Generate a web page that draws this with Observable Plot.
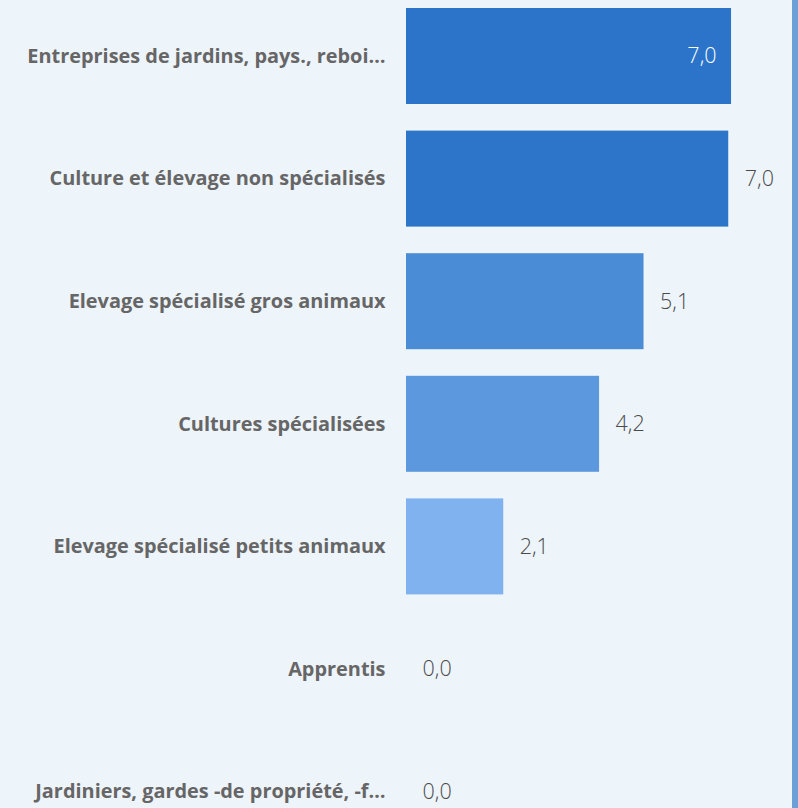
<!DOCTYPE html>
<html>
<head>
<meta charset="utf-8">
<script src="https://cdn.jsdelivr.net/npm/d3@7"></script>
<script src="https://cdn.jsdelivr.net/npm/@observablehq/plot@0.6"></script>
<style>
  html, body { margin: 0; padding: 0; background: #EDF4FA; overflow: hidden; }
  #chart { position: relative; width: 798px; height: 808px; overflow: hidden; }
  #edge { position: absolute; left: 792px; top: 0; width: 6px; height: 808px; background: #6A9FD8; }
</style>
</head>
<body>
<div id="chart"><div id="edge"></div></div>
<script>
const categories = [
  "Entreprises de jardins, pays., reboi…",
  "Culture et élevage non spécialisés",
  "Elevage spécialisé gros animaux",
  "Cultures spécialisées",
  "Elevage spécialisé petits animaux",
  "Apprentis",
  "Jardiniers, gardes -de propriété, -f…"
];
const values = [7.02, 6.96, 5.13, 4.17, 2.1, 0, 0];

const data = categories.map((c, i) => ({category: c, value: values[i]}));
const maxV = d3.max(values);
const fmt = v => v.toFixed(1).replace(".", ",");

const font = "'Segoe UI', 'Open Sans', 'Noto Sans', sans-serif";

const plot = Plot.plot({
  width: 798,
  height: 840,
  marginLeft: 406,
  marginRight: 21.6,
  marginTop: 8,
  marginBottom: 0.4,
  style: {background: "transparent", fontFamily: font},
  x: {domain: [0, 8], axis: null},
  y: {domain: categories, paddingInner: 0.217, paddingOuter: 0, round: false, axis: null},
  color: {type: "linear", domain: [0, 7], range: ["#A3CDFE", "#2B74C9"], interpolate: "rgb"},
  marks: [
    Plot.barX(data, {x: "value", y: "category", fill: "value"}),
    Plot.axisY({tickSize: 0, tickPadding: 21, label: null, fontSize: 19.9, fontWeight: "bold", fill: "#666666"}),
    Plot.text(data.filter(d => d.value < maxV), {
      x: "value", y: "category", text: d => fmt(d.value),
      dx: 16, textAnchor: "start", fontSize: 21.5, fontWeight: 300, fill: "#4a4a4a"
    }),
    Plot.text(data.filter(d => d.value === maxV), {
      x: "value", y: "category", text: d => fmt(d.value),
      dx: -15, textAnchor: "end", fontSize: 21.5, fontWeight: 300, fill: "#FFFFFF"
    })
  ]
});
document.getElementById("chart").prepend(plot);
</script>
</body>
</html>
